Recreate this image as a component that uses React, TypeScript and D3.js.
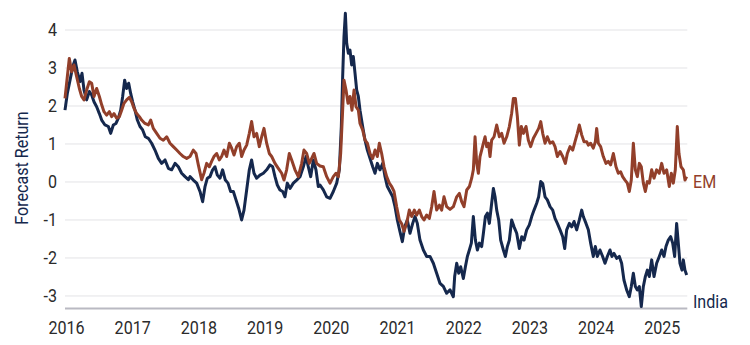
import React from "react";
import * as d3 from "d3";

const xTicks = [2016, 2017, 2018, 2019, 2020, 2021, 2022, 2023, 2024, 2025];
const yTicks = [-3, -2, -1, 0, 1, 2, 3, 4];

const emYears = [
  2016.0, 2016.035, 2016.065, 2016.101, 2016.136, 2016.176, 2016.217, 2016.252, 2016.287, 2016.327,
  2016.368, 2016.403, 2016.438, 2016.478, 2016.519, 2016.554, 2016.589, 2016.629, 2016.67, 2016.705,
  2016.74, 2016.78, 2016.821, 2016.856, 2016.891, 2016.931, 2016.972, 2017.007, 2017.042, 2017.083,
  2017.123, 2017.158, 2017.208, 2017.259, 2017.294, 2017.334, 2017.385, 2017.435, 2017.485, 2017.536,
  2017.586, 2017.636, 2017.687, 2017.737, 2017.787, 2017.838, 2017.888, 2017.938, 2017.979, 2018.014,
  2018.064, 2018.099, 2018.14, 2018.18, 2018.215, 2018.25, 2018.291, 2018.331, 2018.366, 2018.402,
  2018.442, 2018.482, 2018.517, 2018.553, 2018.593, 2018.633, 2018.668, 2018.704, 2018.744, 2018.784,
  2018.819, 2018.855, 2018.895, 2018.935, 2018.971, 2019.006, 2019.046, 2019.086, 2019.122, 2019.172,
  2019.222, 2019.273, 2019.308, 2019.348, 2019.388, 2019.424, 2019.474, 2019.524, 2019.575, 2019.61,
  2019.65, 2019.69, 2019.726, 2019.761, 2019.801, 2019.852, 2019.902, 2019.953, 2020.003, 2020.053,
  2020.094, 2020.129, 2020.164, 2020.194, 2020.214, 2020.245, 2020.275, 2020.305, 2020.335, 2020.366,
  2020.396, 2020.431, 2020.456, 2020.496, 2020.532, 2020.567, 2020.607, 2020.648, 2020.683, 2020.718,
  2020.748, 2020.783, 2020.819, 2020.859, 2020.899, 2020.935, 2020.97, 2021.01, 2021.05, 2021.086,
  2021.121, 2021.161, 2021.201, 2021.237, 2021.277, 2021.312, 2021.352, 2021.388, 2021.423, 2021.463,
  2021.503, 2021.539, 2021.574, 2021.614, 2021.655, 2021.69, 2021.725, 2021.765, 2021.816, 2021.866,
  2021.917, 2021.957, 2021.992, 2022.027, 2022.068, 2022.108, 2022.143, 2022.168, 2022.194, 2022.219,
  2022.244, 2022.269, 2022.294, 2022.32, 2022.345, 2022.37, 2022.395, 2022.42, 2022.445, 2022.481,
  2022.521, 2022.561, 2022.596, 2022.632, 2022.672, 2022.712, 2022.747, 2022.773, 2022.803, 2022.833,
  2022.863, 2022.893, 2022.924, 2022.964, 2022.999, 2023.034, 2023.075, 2023.115, 2023.155, 2023.186,
  2023.216, 2023.251, 2023.286, 2023.327, 2023.367, 2023.402, 2023.437, 2023.478, 2023.518, 2023.558,
  2023.588, 2023.629, 2023.669, 2023.704, 2023.739, 2023.769, 2023.805, 2023.84, 2023.88, 2023.905,
  2023.94, 2023.98, 2024.011, 2024.031, 2024.056, 2024.091, 2024.131, 2024.172, 2024.207, 2024.242,
  2024.283, 2024.323, 2024.358, 2024.393, 2024.423, 2024.459, 2024.494, 2024.524, 2024.554, 2024.585,
  2024.615, 2024.645, 2024.675, 2024.705, 2024.736, 2024.766, 2024.796, 2024.826, 2024.862, 2024.897,
  2024.937, 2024.977, 2025.013, 2025.048, 2025.088, 2025.128, 2025.159, 2025.189, 2025.219, 2025.249,
  2025.274, 2025.305, 2025.34, 2025.365, 2025.39,
];
const emValues = [
  2.2, 2.77, 3.25, 2.9, 3.08, 2.77, 2.46, 2.25, 2.16, 2.42,
  2.64, 2.6, 2.25, 2.46, 2.25, 2.03, 1.85, 1.76, 1.85, 1.72,
  1.8, 1.68, 1.72, 1.89, 2.07, 2.16, 2.23, 2.11, 1.94, 1.8,
  1.72, 1.63, 1.54, 1.5, 1.63, 1.41, 1.28, 1.15, 1.1, 1.19,
  1.02, 0.93, 0.84, 0.75, 0.67, 0.62, 0.67, 0.84, 0.75, 0.45,
  0.06, 0.23, 0.49, 0.4, 0.54, 0.67, 0.75, 0.58, 0.67, 0.84,
  0.67, 1.02, 0.89, 0.71, 0.93, 1.02, 0.67, 0.84, 0.97, 1.28,
  1.59, 1.19, 1.28, 0.93, 1.19, 1.41, 1.02, 0.75, 0.67, 0.49,
  0.36, 0.23, 0.05, 0.32, 0.75, 0.58, 0.32, 0.14, 0.49, 0.84,
  0.75, 0.49, 0.62, 0.75, 0.49, 0.42, 0.4, 0.14, -0.03, 0.14,
  0.23, 0.14, 0.75, 1.89, 2.68, 2.42, 2.07, 2.25, 1.89, 2.42,
  1.98, 1.89, 1.54, 1.37, 1.1, 1.02, 0.75, 0.62, 0.84, 0.67,
  1.02, 0.75, 0.4, 0.14, -0.03, -0.12, -0.25, -0.65, -1.0, -1.1,
  -1.3, -1.09, -0.74, -0.91, -0.74, -0.87, -0.74, -0.91, -1.0, -0.87,
  -0.96, -0.65, -0.25, -0.74, -0.61, -0.74, -0.39, -0.65, -0.72, -0.65,
  -0.39, -0.3, -0.52, -0.65, -0.21, -0.12, 0.1, 0.32, 1.19, 0.49,
  0.23, 0.67, 0.84, 1.02, 1.19, 0.93, 1.02, 0.67, 1.1, 1.19,
  1.5, 1.19, 1.28, 1.02, 1.19, 1.46, 1.81, 2.2, 2.2, 1.72,
  0.97, 1.46, 1.28, 1.46, 1.1, 0.93, 1.15, 1.28, 1.41, 1.59,
  1.28, 1.02, 1.19, 1.02, 1.06, 0.93, 0.67, 0.8, 0.67, 0.49,
  0.75, 0.93, 0.84, 1.06, 1.28, 1.5, 1.24, 1.06, 1.06, 0.97,
  1.02, 0.89, 1.06, 1.41, 1.02, 0.93, 0.67, 0.49, 0.54, 0.45,
  0.75, 0.4, 0.23, 0.27, 0.14, 0.05, -0.03, -0.25, 0.05, 1.02,
  0.32, 0.14, 0.49, 0.4, -0.03, -0.25, 0.01, -0.03, 0.32, 0.1,
  0.32, 0.23, 0.49, 0.23, 0.32, -0.12, 0.23, -0.03, 0.32, 1.46,
  0.75, 0.4, 0.32, 0.05, 0.14,
];

const indiaYears = [
  2016.0, 2016.035, 2016.076, 2016.116, 2016.151, 2016.186, 2016.227, 2016.257, 2016.287, 2016.327,
  2016.368, 2016.403, 2016.438, 2016.478, 2016.519, 2016.554, 2016.604, 2016.655, 2016.69, 2016.73,
  2016.77, 2016.806, 2016.841, 2016.871, 2016.901, 2016.931, 2016.962, 2016.992, 2017.022, 2017.057,
  2017.093, 2017.133, 2017.173, 2017.213, 2017.259, 2017.309, 2017.359, 2017.41, 2017.46, 2017.511,
  2017.561, 2017.611, 2017.662, 2017.712, 2017.762, 2017.813, 2017.863, 2017.888, 2017.938, 2017.989,
  2018.039, 2018.079, 2018.115, 2018.15, 2018.19, 2018.23, 2018.266, 2018.301, 2018.341, 2018.381,
  2018.422, 2018.462, 2018.502, 2018.543, 2018.583, 2018.623, 2018.668, 2018.704, 2018.744, 2018.784,
  2018.819, 2018.855, 2018.895, 2018.945, 2018.996, 2019.046, 2019.096, 2019.137, 2019.172, 2019.207,
  2019.247, 2019.288, 2019.323, 2019.358, 2019.399, 2019.449, 2019.499, 2019.55, 2019.6, 2019.64,
  2019.675, 2019.711, 2019.751, 2019.791, 2019.826, 2019.852, 2019.902, 2019.953, 2020.003, 2020.053,
  2020.104, 2020.144, 2020.174, 2020.194, 2020.214, 2020.235, 2020.255, 2020.28, 2020.305, 2020.33,
  2020.355, 2020.381, 2020.406, 2020.431, 2020.456, 2020.496, 2020.532, 2020.567, 2020.607, 2020.648,
  2020.683, 2020.718, 2020.758, 2020.799, 2020.834, 2020.869, 2020.909, 2020.95, 2020.985, 2021.02,
  2021.06, 2021.096, 2021.131, 2021.171, 2021.211, 2021.252, 2021.287, 2021.322, 2021.362, 2021.413,
  2021.463, 2021.513, 2021.564, 2021.614, 2021.665, 2021.715, 2021.765, 2021.816, 2021.866, 2021.886,
  2021.917, 2021.947, 2021.977, 2022.017, 2022.048, 2022.078, 2022.108, 2022.138, 2022.168, 2022.199,
  2022.229, 2022.259, 2022.294, 2022.32, 2022.35, 2022.38, 2022.41, 2022.445, 2022.471, 2022.496,
  2022.521, 2022.551, 2022.581, 2022.622, 2022.652, 2022.682, 2022.712, 2022.747, 2022.783, 2022.823,
  2022.863, 2022.899, 2022.934, 2022.974, 2023.014, 2023.05, 2023.085, 2023.125, 2023.155, 2023.186,
  2023.216, 2023.251, 2023.286, 2023.327, 2023.367, 2023.402, 2023.437, 2023.478, 2023.518, 2023.548,
  2023.578, 2023.619, 2023.654, 2023.689, 2023.729, 2023.769, 2023.805, 2023.829, 2023.87, 2023.905,
  2023.94, 2023.98, 2024.011, 2024.041, 2024.081, 2024.121, 2024.157, 2024.192, 2024.232, 2024.262,
  2024.293, 2024.333, 2024.373, 2024.408, 2024.443, 2024.484, 2024.524, 2024.554, 2024.585, 2024.615,
  2024.645, 2024.675, 2024.705, 2024.736, 2024.766, 2024.796, 2024.826, 2024.862, 2024.897, 2024.937,
  2024.977, 2025.013, 2025.048, 2025.078, 2025.113, 2025.149, 2025.179, 2025.209, 2025.239, 2025.264,
  2025.289, 2025.32, 2025.34, 2025.365, 2025.39,
];
const indiaValues = [
  1.89, 2.33, 2.68, 3.03, 3.21, 2.9, 2.64, 2.86, 2.42, 2.16,
  2.38, 2.29, 2.11, 1.98, 1.8, 1.63, 1.5, 1.46, 1.28, 1.5,
  1.54, 1.68, 1.89, 2.25, 2.68, 2.46, 2.6, 2.33, 2.11, 1.89,
  1.63, 1.46, 1.37, 1.19, 1.15, 1.02, 0.84, 0.62, 0.49, 0.58,
  0.36, 0.32, 0.49, 0.4, 0.23, 0.14, 0.06, 0.14, 0.05, -0.03,
  -0.25, -0.52, -0.12, 0.1, 0.14, 0.32, 0.4, 0.18, 0.1, 0.32,
  0.05, -0.03, -0.25, -0.25, -0.47, -0.69, -1.0, -0.74, -0.21, 0.32,
  0.58, 0.23, 0.1, 0.18, 0.23, 0.32, 0.45, 0.4, 0.14, -0.08,
  -0.21, -0.25, -0.39, -0.03, -0.17, -0.03, 0.05, 0.14, 0.4, 0.67,
  0.4, 0.14, 0.58, 0.32, -0.12, -0.08, -0.21, -0.39, -0.43, -0.25,
  -0.03, 0.32, 1.46, 2.77, 3.82, 4.44, 3.65, 3.39, 3.47, 3.08,
  3.3, 2.86, 2.42, 2.25, 1.89, 1.46, 1.1, 0.84, 0.62, 0.4,
  0.23, 0.49, 0.32, 0.49, 0.14, -0.12, -0.25, -0.39, -0.65, -1.0,
  -1.31, -1.57, -1.18, -1.0, -1.35, -1.09, -0.91, -1.09, -1.53, -1.79,
  -1.96, -1.96, -2.14, -2.4, -2.67, -2.75, -2.93, -2.84, -3.02, -2.49,
  -2.14, -2.4, -2.23, -2.54, -2.23, -1.96, -1.79, -1.61, -0.91, -1.53,
  -1.79, -1.61, -1.7, -1.35, -0.91, -0.82, -1.09, -0.56, -0.17, -0.39,
  -0.74, -1.0, -1.53, -1.79, -1.96, -1.7, -1.53, -1.0, -1.18, -1.35,
  -1.75, -1.44, -1.53, -1.26, -1.13, -0.91, -0.74, -0.56, -0.39, 0.01,
  -0.04, -0.39, -0.47, -0.65, -0.74, -0.96, -1.09, -1.26, -1.44, -1.75,
  -1.26, -1.09, -1.18, -1.04, -1.26, -1.0, -0.74, -0.91, -1.09, -1.26,
  -1.61, -1.96, -1.7, -1.96, -1.79, -1.96, -2.14, -1.96, -1.79, -1.96,
  -1.88, -2.01, -1.96, -2.14, -2.58, -2.84, -3.02, -2.75, -2.4, -2.75,
  -2.84, -2.75, -3.28, -2.75, -2.49, -2.32, -2.49, -2.05, -2.49, -2.14,
  -1.96, -1.79, -1.96, -1.7, -1.53, -1.44, -1.61, -1.96, -1.09, -1.61,
  -2.14, -2.32, -2.05, -2.32, -2.45,
];

const W = 750;
const H = 345;
const EM_COLOR = "#923f2a";
const INDIA_COLOR = "#15284d";
const FONT = "Roboto, 'Liberation Sans', sans-serif";
const FS = 18.5;
const SX = 0.87;

function CText(props: {
  x: number; y: number; children: React.ReactNode; fill: string;
  anchor?: string; rotate?: number; dy?: string;
}) {
  const { x, y, children, fill, anchor = "start", rotate = 0, dy } = props;
  return (
    <text
      transform={`translate(${x},${y}) rotate(${rotate}) scale(${SX},1)`}
      textAnchor={anchor}
      fill={fill}
      fontFamily={FONT}
      fontSize={FS}
      dy={dy}
    >
      {children}
    </text>
  );
}

export default function App() {
  const x = d3.scaleLinear().domain([2016, 2025.4]).range([65, 687.3]);
  const y = d3.scaleLinear().domain([-3.33, 4]).range([308.5, 30]);

  const line = d3
    .line<[number, number]>()
    .x((d) => x(d[0]))
    .y((d) => y(d[1]));

  const emData: [number, number][] = emYears.map((t, i) => [t, emValues[i]]);
  const indiaData: [number, number][] = indiaYears.map((t, i) => [t, indiaValues[i]]);

  const [x0, x1] = x.range();

  return (
    <div style={{ position: "absolute", left: 0, top: 0 }}>
      <svg width={W} height={H} style={{ display: "block", background: "#fff" }}>
        {yTicks.map((t) => (
          <line key={"g" + t} x1={x0} x2={x1} y1={y(t)} y2={y(t)} stroke="#e3e3e6" strokeWidth={1} />
        ))}
        <line x1={x0} x2={x1} y1={y(-3.33)} y2={y(-3.33)} stroke="#b9b9c2" strokeWidth={2} />
        {yTicks.map((t) => (
          <CText key={"yl" + t} x={57} y={y(t)} anchor="end" fill="#2b2b2b" dy="0.35em">
            {String(t)}
          </CText>
        ))}
        {xTicks.map((t) => (
          <CText key={"xl" + t} x={x(t) + 1.5} y={333.5} anchor="middle" fill="#2b2b2b">
            {String(t)}
          </CText>
        ))}
        <CText x={28} y={168} anchor="middle" rotate={-90} fill={INDIA_COLOR}>
          Forecast Return
        </CText>
        <path d={line(indiaData) || ""} fill="none" stroke={INDIA_COLOR} strokeWidth={3} strokeLinejoin="round" />
        <path d={line(emData) || ""} fill="none" stroke={EM_COLOR} strokeWidth={3} strokeLinejoin="round" />
        <CText x={693} y={y(0)} fill={EM_COLOR} dy="0.35em">EM</CText>
        <CText x={693} y={302} fill={INDIA_COLOR} dy="0.35em">India</CText>
      </svg>
    </div>
  );
}
